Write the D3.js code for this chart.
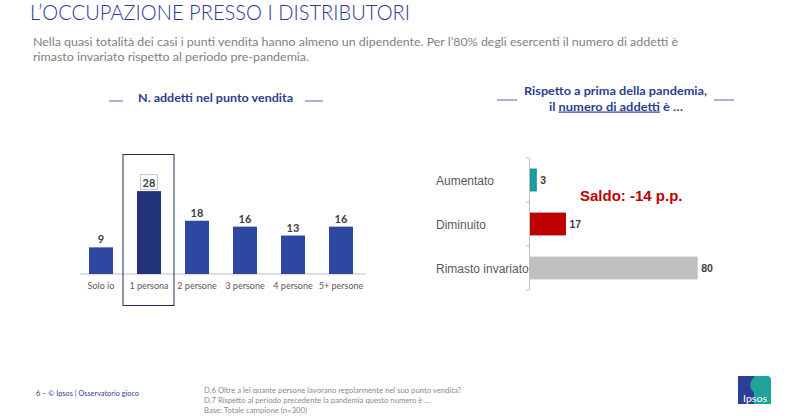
<!DOCTYPE html>
<html><head><meta charset="utf-8">
<script src="https://cdn.jsdelivr.net/npm/d3@7"></script>
<style>body{margin:0;background:#fff;}svg{display:block;}</style>
</head><body>
<svg id="c" width="790" height="416"></svg>
<script>
const staffCategories = ["Solo io","1 persona","2 persone","3 persone","4 persone","5+ persone"];
const staffValues = [9,28,18,16,13,16];
const highlightCategory = "1 persona";
const changeCategories = ["Aumentato","Diminuito","Rimasto invariato"];
const changeValues = [3,17,80];
const changeColors = ["#17a09e","#c00000","#c0c0c0"];
const changeStroke = ["#12807e","#9a0000","#c0c0c0"];

const svg = d3.select("#c");
const sans = "Lato, 'Open Sans', sans-serif";
const arial = "'Liberation Sans', Arial, sans-serif";

// Title
svg.append("text").attr("x",30).attr("y",20).attr("font-family",sans).attr("font-size",21).attr("font-weight",300)
  .attr("fill","#2b3a8f").attr("textLength",380).attr("lengthAdjust","spacingAndGlyphs")
  .text("L\u2019OCCUPAZIONE PRESSO I DISTRIBUTORI");
svg.append("text").attr("x",33).attr("y",46).attr("font-family",sans).attr("font-size",12)
  .attr("fill","#7f7f7f").attr("textLength",645).attr("lengthAdjust","spacingAndGlyphs")
  .text("Nella quasi totalità dei casi i punti vendita hanno almeno un dipendente. Per l\u201980% degli esercenti il numero di addetti è");
svg.append("text").attr("x",33).attr("y",61).attr("font-family",sans).attr("font-size",12)
  .attr("fill","#7f7f7f").attr("textLength",276).attr("lengthAdjust","spacingAndGlyphs")
  .text("rimasto invariato rispetto al periodo pre-pandemia.");

// Left chart title
const navy = "#2c3e8f";
svg.append("text").attr("x",138).attr("y",102).attr("font-family",sans)
  .attr("font-weight","bold").attr("font-size",12).attr("fill",navy)
  .attr("textLength",155).attr("lengthAdjust","spacingAndGlyphs").text("N. addetti nel punto vendita");
[[109,123],[305,323]].forEach(([a,b])=>svg.append("line").attr("x1",a).attr("x2",b).attr("y1",101).attr("y2",101).attr("stroke",navy).attr("stroke-width",0.8));

// Left chart
const x = d3.scaleBand().domain(staffCategories).range([77,365]).paddingInner(0.5).paddingOuter(0.25);
const y = d3.scaleLinear().domain([0,30]).range([274,274-88.8]);
const g1 = svg.append("g");
g1.append("line").attr("x1",80).attr("x2",366).attr("y1",y(0)).attr("y2",y(0)).attr("stroke","#bfbfbf").attr("stroke-width",1.2);
g1.selectAll("rect.bar").data(staffValues).join("rect").attr("class","bar")
  .attr("x",(d,i)=>x(staffCategories[i])).attr("width",x.bandwidth())
  .attr("y",d=>y(d)).attr("height",d=>y(0)-y(d))
  .attr("fill",(d,i)=>staffCategories[i]===highlightCategory?"#22337a":"#2e47a0");
g1.selectAll("text.val").data(staffValues).join("text").attr("class","val")
  .attr("x",(d,i)=>x(staffCategories[i])+x.bandwidth()/2).attr("y",d=>y(d)-4)
  .attr("text-anchor","middle").attr("font-family",sans).attr("font-weight","bold").attr("font-size",11)
  .attr("fill","#404040").text(d=>d);
g1.selectAll("text.cat").data(staffCategories).join("text").attr("class","cat")
  .attr("x",d=>x(d)+x.bandwidth()/2).attr("y",289).attr("text-anchor","middle")
  .attr("font-family",sans).attr("font-size",9).attr("fill","#595959").text(d=>d);
// highlight box
const hi = staffCategories.indexOf(highlightCategory);
const hx = x(highlightCategory)+x.bandwidth()/2;
svg.append("rect").attr("x",hx-8.5).attr("y",y(staffValues[hi])-16.5).attr("width",17).attr("height",15)
  .attr("fill","none").attr("stroke","#c8c8c8").attr("stroke-width",1);
svg.append("rect").attr("x",hx-26).attr("y",154.5).attr("width",51).attr("height",151)
  .attr("fill","none").attr("stroke","#1f3050").attr("stroke-width",1);

// Right chart title
svg.append("text").attr("x",524).attr("y",94.5).attr("font-family",sans)
  .attr("font-weight","bold").attr("font-size",12).attr("fill",navy)
  .attr("textLength",183).attr("lengthAdjust","spacingAndGlyphs").text("Rispetto a prima della pandemia,");
const t2 = svg.append("text").attr("x",549).attr("y",110.5).attr("font-family",sans)
  .attr("font-weight","bold").attr("font-size",12).attr("fill",navy)
  .attr("textLength",134).attr("lengthAdjust","spacingAndGlyphs");
t2.append("tspan").text("il ");
t2.append("tspan").attr("text-decoration","underline").text("numero di addetti");
t2.append("tspan").text(" è …");
[[497,517],[714,734]].forEach(([a,b])=>svg.append("line").attr("x1",a).attr("x2",b).attr("y1",100).attr("y2",100).attr("stroke",navy).attr("stroke-width",0.8));

// Right chart
const yb = d3.scaleBand().domain(changeCategories).range([158,290]).paddingInner(0.5).paddingOuter(0.25);
const xl = d3.scaleLinear().domain([0,100]).range([530,739]);
const g2 = svg.append("g");
g2.selectAll("rect").data(changeValues).join("rect")
  .attr("x",xl(0)).attr("y",(d,i)=>yb(changeCategories[i])).attr("height",yb.bandwidth())
  .attr("width",d=>xl(d)-xl(0)).attr("fill",(d,i)=>changeColors[i])
  .attr("stroke",(d,i)=>changeStroke[i]).attr("stroke-width",0.8);
g2.append("line").attr("x1",529.5).attr("x2",529.5).attr("y1",158).attr("y2",290).attr("stroke","#bfbfbf").attr("stroke-width",1);
const tickYs = [158].concat(changeCategories.map(c=>yb(c)+yb.bandwidth()+11));
g2.selectAll("line.tk").data(tickYs).join("line").attr("class","tk")
  .attr("x1",526).attr("x2",529.5).attr("y1",d=>d).attr("y2",d=>d).attr("stroke","#bfbfbf");
g2.selectAll("text.cat").data(changeCategories).join("text").attr("class","cat")
  .attr("x",436).attr("y",d=>yb(d)+yb.bandwidth()/2+4.5).attr("font-family",arial).attr("font-size",12)
  .attr("fill","#595959").text(d=>d);
g2.selectAll("text.val").data(changeValues).join("text").attr("class","val")
  .attr("x",d=>xl(d)+4).attr("y",(d,i)=>yb(changeCategories[i])+yb.bandwidth()/2+4)
  .attr("font-family",arial).attr("font-weight","bold").attr("font-size",10.5).attr("fill","#404040").text(d=>d);
svg.append("text").attr("x",580).attr("y",201).attr("font-family",arial).attr("font-weight","bold")
  .attr("font-size",15).attr("fill","#c00000").text("Saldo: -14 p.p.");

// Footer
svg.append("text").attr("x",36).attr("y",396).attr("font-family",sans).attr("font-size",7).attr("fill","#2c3e8f")
  .attr("textLength",103).attr("lengthAdjust","spacingAndGlyphs")
  .text("6 –  © Ipsos |  Osservatorio gioco");
const notes = ["D.6 Oltre a lei quante persone lavorano regolarmente nel suo punto vendita?",
 "D.7 Rispetto al periodo precedente la pandemia questo numero è …",
 "Base: Totale campione (n=300)"];
const noteLens = [257,226,103];
notes.forEach((s,i)=>
  svg.append("text").attr("x",204).attr("y",393+i*10).attr("font-family",sans).attr("font-size",7).attr("fill","#8a8a8a")
    .attr("textLength",noteLens[i]).attr("lengthAdjust","spacingAndGlyphs").text(s));

// Logo
const lg = svg.append("g");
lg.append("path").attr("d","M738,376 H767 Q771,376 771,380 V404 H738 Z").attr("fill","#1fa39a");
lg.append("rect").attr("x",738).attr("y",376).attr("width",16).attr("height",28).attr("fill","#2d3f95");
lg.append("path").attr("d","M754,378 C749,381 749,389 754,392 C759,389 759,381 754,378Z").attr("fill","#1fa39a");
lg.append("text").attr("x",755).attr("y",401.5).attr("text-anchor","middle").attr("font-family",sans)
  .attr("font-size",10).attr("fill","#fff").attr("textLength",24).attr("lengthAdjust","spacingAndGlyphs").text("Ipsos");
</script>
</body></html>
